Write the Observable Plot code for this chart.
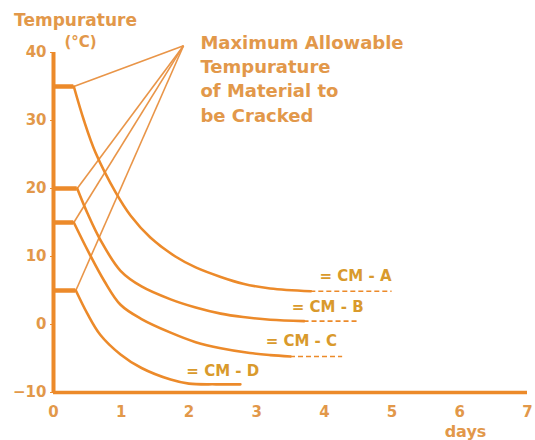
<!DOCTYPE html>
<html><head><meta charset="utf-8">
<script src="https://cdn.jsdelivr.net/npm/d3@7"></script>
<script src="https://cdn.jsdelivr.net/npm/@observablehq/plot@0.6"></script>
<style>body{margin:0;background:#fff}</style>
</head><body><div id="chart"></div>
<script>
// ---- data ----
const xTicks = [0, 1, 2, 3, 4, 5, 6, 7];
const yTicks = [-10, 0, 10, 20, 30, 40];
const seriesNames = ["CM - A", "CM - B", "CM - C", "CM - D"];
const plateauLevels = [35, 20, 15, 5];
const plateauEnds = [0.3, 0.35, 0.3, 0.33];
const curveA = [[0.3,35],[0.45,30],[0.62,25.3],[0.92,19.4],[1.14,16],[1.43,12.8],[1.8,10],[2.1,8.4],[2.47,7],[2.8,6],[3.2,5.3],[3.8,4.9]];
const curveB = [[0.35,20],[0.5,16.4],[0.7,12.3],[0.99,7.9],[1.3,5.6],[1.73,3.7],[2.1,2.5],[2.47,1.6],[2.8,1.1],[3.2,0.7],[3.7,0.5]];
const curveC = [[0.3,15],[0.52,10.6],[0.75,6.4],[0.99,2.9],[1.3,0.8],[1.73,-1.2],[2.1,-2.6],[2.47,-3.5],[2.9,-4.2],[3.2,-4.5],[3.5,-4.7]];
const curveD = [[0.33,5],[0.5,1.6],[0.69,-1.5],[0.99,-4.4],[1.3,-6.4],[1.73,-8.1],[2.0,-8.7],[2.4,-8.8],[2.76,-8.8]];
const tailStart = [3.8, 3.7, 3.5];
const tailEnd = [5.0, 4.5, 4.27];
const tailLevel = [4.9, 0.5, -4.7];
const labelX = [4.46, 4.05, 3.66, 2.5];
const labelY = [7.1, 2.5, -2.5, -6.9];
const apex = [1.92, 41.0];
const noteLines = ["Maximum Allowable", "Tempurature", "of Material to", "be Cracked"];
const noteAt = [2.17, 43.1];

// ---- build tables ----
const lineColor = "#EC8A2A";
const textColor = "#E2984A";
const curves = [curveA, curveB, curveC, curveD].flatMap((c, i) => c.map(([x, y]) => ({x, y, s: seriesNames[i]})));
const plateaus = plateauLevels.map((v, i) => ({x1: 0, x2: plateauEnds[i], y: v}));
const tails = tailLevel.map((v, i) => ({x1: tailStart[i], x2: tailEnd[i], y: v}));
const leaders = plateauLevels.map((v, i) => ({x1: apex[0], y1: apex[1], x2: plateauEnds[i], y2: v}));
const labels = seriesNames.map((s, i) => ({x: labelX[i], y: labelY[i], t: "= " + s}));

const chart = Plot.plot({
  width: 535, height: 440,
  marginLeft: 53, marginRight: 8, marginTop: 52, marginBottom: 48,
  style: {fontFamily: "DejaVu Sans", background: "#fff"},
  x: {domain: [0, 7]},
  y: {domain: [-10, 40]},
  marks: [
    Plot.axisY({ticks: yTicks, tickSize: 3, tickPadding: 4, stroke: lineColor, fill: textColor, fontSize: 15, fontWeight: "bold", label: null}),
    Plot.axisX({ticks: xTicks, tickFormat: d => String(d), tickSize: 0, tickPadding: 14, fill: textColor, fontSize: 15, fontWeight: "bold", label: null}),
    Plot.link(leaders, {x1: "x1", y1: "y1", x2: "x2", y2: "y2", stroke: "#E99548", strokeWidth: 1.6}),
    Plot.line(curves, {x: "x", y: "y", z: "s", stroke: lineColor, strokeWidth: 2.6, curve: "catmull-rom"}),
    Plot.ruleY(plateaus, {x1: "x1", x2: "x2", y: "y", stroke: lineColor, strokeWidth: 4.5}),
    Plot.ruleY(tails, {x1: "x1", x2: "x2", y: "y", stroke: lineColor, strokeWidth: 1.6, strokeDasharray: "5,3"}),
    Plot.ruleX([0], {y1: -10, y2: 40, stroke: lineColor, strokeWidth: 4}),
    Plot.ruleY([-10], {x1: 0, x2: 7, stroke: lineColor, strokeWidth: 3.5}),
    Plot.text(labels, {x: "x", y: "y", text: "t", fill: "#D99A2C", fontSize: 15, fontWeight: "bold"}),
    Plot.text([noteLines.join("\n")], {x: noteAt[0], y: noteAt[1], textAnchor: "start", lineAnchor: "top", lineHeight: 1.35, fill: textColor, fontSize: 18, fontWeight: "bold"}),
    Plot.text(["Tempurature"], {frameAnchor: "top-left", dx: 22, dy: -39, textAnchor: "middle", fill: textColor, fontSize: 17, fontWeight: "bold"}),
    Plot.text(["(°C)"], {frameAnchor: "top-left", dx: 27, dy: -16, textAnchor: "middle", fill: textColor, fontSize: 15, fontWeight: "bold"}),
    Plot.text(["days"], {frameAnchor: "bottom-left", dx: 412, dy: 44, textAnchor: "middle", fill: textColor, fontSize: 16, fontWeight: "bold"})
  ]
});
document.getElementById("chart").appendChild(chart);
</script></body></html>
